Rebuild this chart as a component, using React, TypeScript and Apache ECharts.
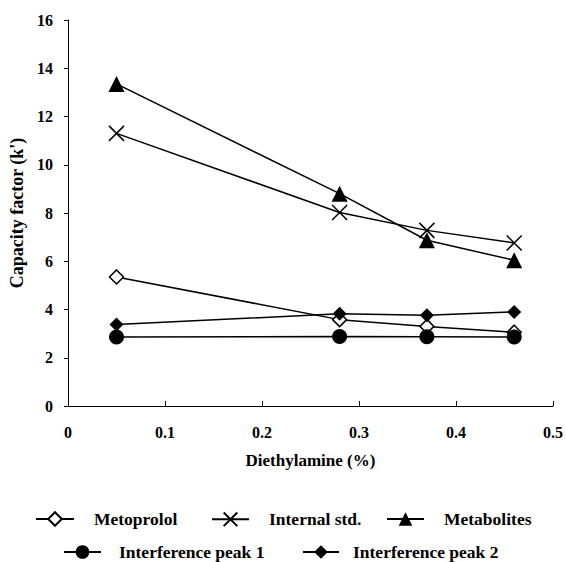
import React, { useEffect, useRef } from "react";
import * as echarts from "echarts";

const xValues = [0.05, 0.28, 0.37, 0.46];
const metoprolol = [5.35, 3.58, 3.3, 3.06];
const internalStd = [11.3, 8.02, 7.28, 6.76];
const metabolites = [13.35, 8.8, 6.87, 6.04];
const interference1 = [2.86, 2.88, 2.87, 2.86];
const interference2 = [3.38, 3.82, 3.76, 3.9];
const yTicks = { min: 0, max: 16, interval: 2 };
const xTicks = { min: 0, max: 0.5, interval: 0.1 };

const FONT = "'Liberation Serif', 'Times New Roman', serif";
const pair = (ys: number[]) => xValues.map((x, i) => [x, ys[i]]);
const CROSS = "path://M0,0L10,10M10,0L0,10";

export default function App() {
  const ref = useRef<HTMLDivElement>(null);
  useEffect(() => {
    if (!ref.current) return;
    const chart = echarts.init(ref.current, null, { renderer: "svg" });
    const line = { color: "#000", width: 1.5 };
    const mkLegend = (name: string, left: number, top: number, gap: number, w = 37) => ({
      data: [name], left, top, itemWidth: w, itemHeight: 17, padding: 0,
      textStyle: { fontFamily: FONT, fontWeight: "bold", fontSize: 17.5, color: "#000", padding: [0, 0, 0, gap - 5] },
    });
    chart.setOption({
      animation: false,
      backgroundColor: "#fff",
      grid: { left: 68, right: 8, top: 20, bottom: 156 },
      legend: [
        mkLegend("Metoprolol", 35, 510, 20, 38),
        mkLegend("Internal std.", 211, 510, 20, 37),
        mkLegend("Metabolites", 386, 510, 20, 37),
        mkLegend("Interference peak 1", 63, 543, 18, 37),
        mkLegend("Interference peak 2", 302, 543, 14, 36),
      ],
      xAxis: {
        type: "value", ...xTicks,
        name: "Diethylamine (%)", nameLocation: "middle", nameGap: 46,
        nameTextStyle: { fontFamily: FONT, fontWeight: "bold", fontSize: 17, color: "#000" },
        axisLine: { lineStyle: { color: "#000", width: 1 } },
        axisTick: { inside: true, length: 5, lineStyle: { color: "#000" } },
        axisLabel: { fontFamily: FONT, fontWeight: "bold", fontSize: 16, color: "#000", margin: 18 },
        splitLine: { show: false },
      },
      yAxis: {
        type: "value", ...yTicks,
        name: "Capacity factor (k')", nameLocation: "middle", nameGap: 38,
        nameTextStyle: { fontFamily: FONT, fontWeight: "bold", fontSize: 18, color: "#000" },
        axisLine: { show: true, lineStyle: { color: "#000", width: 1 } },
        axisTick: { show: true, inside: false, length: 4, lineStyle: { color: "#000" } },
        axisLabel: { fontFamily: FONT, fontWeight: "bold", fontSize: 16, color: "#000", margin: 15 },
        splitLine: { show: false },
      },
      series: [
        { name: "Metoprolol", type: "line", data: pair(metoprolol), symbol: "diamond", symbolSize: 14,
          lineStyle: line, itemStyle: { color: "#fff", borderColor: "#000", borderWidth: 1.5 } },
        { name: "Internal std.", type: "line", data: pair(internalStd), symbol: CROSS, symbolSize: 15,
          lineStyle: line, itemStyle: { color: "none", borderColor: "#000", borderWidth: 1.5 } },
        { name: "Metabolites", type: "line", data: pair(metabolites), symbol: "triangle", symbolSize: 16,
          lineStyle: line, itemStyle: { color: "#000", borderColor: "#000", borderWidth: 0 } },
        { name: "Interference peak 1", type: "line", data: pair(interference1), symbol: "circle", symbolSize: 15,
          lineStyle: line, itemStyle: { color: "#000", borderWidth: 0 } },
        { name: "Interference peak 2", type: "line", data: pair(interference2), symbol: "diamond", symbolSize: 14,
          lineStyle: line, itemStyle: { color: "#000", borderWidth: 0 } },
      ],
    });
    return () => chart.dispose();
  }, []);
  return <div ref={ref} style={{ width: 566, height: 562, position: "absolute", left: 0, top: 0 }} />;
}
